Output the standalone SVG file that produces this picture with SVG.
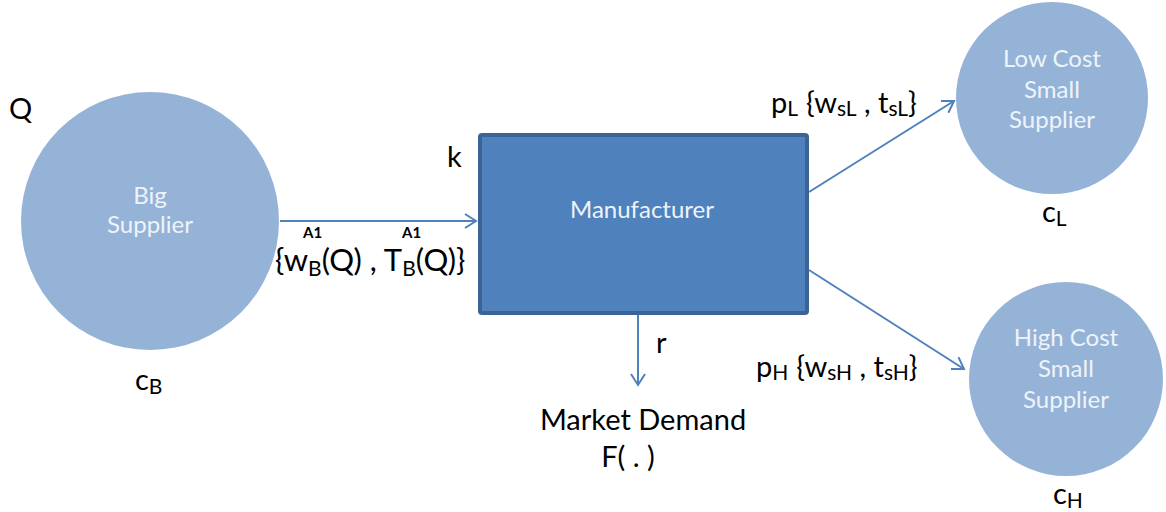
<svg xmlns="http://www.w3.org/2000/svg" width="1166" height="512" viewBox="0 0 1166 512">
<style>
.circ{fill:#95b3d7}
.ntxt{font-family:Lato,"Liberation Sans",sans-serif;font-size:24px;fill:#eef3fa;text-anchor:middle}
.lbl{font-family:Lato,"Liberation Sans",sans-serif;font-size:29px;fill:#000}
.big{font-size:31px}
.sub{font-size:21px}
.sup{font-family:Lato,"Liberation Sans",sans-serif;font-size:15px;font-weight:bold;fill:#000}
.edge{stroke:#4f81bd;stroke-width:2;fill:none}
</style>
<defs>
<marker id="ah" markerWidth="16" markerHeight="16" refX="12" refY="8" orient="auto" markerUnits="userSpaceOnUse">
<path d="M1,1 L12,8 L1,15" fill="none" stroke="#4f81bd" stroke-width="2"/>
</marker>
</defs>
<g id="connectors">
<line class="edge" x1="280" y1="221" x2="476" y2="221" marker-end="url(#ah)"/>
<line class="edge" x1="809" y1="192" x2="954" y2="101" marker-end="url(#ah)"/>
<line class="edge" x1="809" y1="270" x2="964" y2="369" marker-end="url(#ah)"/>
<line class="edge" x1="638" y1="315" x2="638" y2="385" marker-end="url(#ah)"/>
</g>
<g id="big-supplier">
<circle class="circ" cx="150" cy="221" r="129"/>
<text class="ntxt" x="150" y="204">Big</text>
<text class="ntxt" x="150" y="233">Supplier</text>
</g>
<g id="manufacturer">
<rect x="480" y="135" width="327" height="178" rx="2" fill="#4f81bd" stroke="#3b6396" stroke-width="4"/>
<text class="ntxt" x="642" y="218">Manufacturer</text>
</g>
<g id="low-cost">
<circle class="circ" cx="1052" cy="98" r="96"/>
<text class="ntxt" x="1052" y="67">Low Cost</text>
<text class="ntxt" x="1052" y="98">Small</text>
<text class="ntxt" x="1052" y="128">Supplier</text>
</g>
<g id="high-cost">
<circle class="circ" cx="1066" cy="379" r="97"/>
<text class="ntxt" x="1066" y="346">High Cost</text>
<text class="ntxt" x="1066" y="377">Small</text>
<text class="ntxt" x="1066" y="408">Supplier</text>
</g>
<g id="market-demand">
<text class="lbl" x="643" y="430" text-anchor="middle">Market Demand</text>
<text class="lbl" x="628" y="467" text-anchor="middle">F( . )</text>
</g>
<g id="labels">
<text class="lbl" x="9" y="119">Q</text>
<text class="lbl" x="135" y="390">c<tspan class="sub" dy="4">B</tspan></text>
<text class="lbl" x="1042" y="222">c<tspan class="sub" dy="4">L</tspan></text>
<text class="lbl" x="1053" y="504">c<tspan class="sub" dy="4">H</tspan></text>
<text class="lbl" x="447" y="167">k</text>
<text class="lbl" x="656" y="353">r</text>
<text class="lbl big" x="275" y="271">{w<tspan class="sub" dy="5">B</tspan><tspan dy="-5">(Q) , T</tspan><tspan class="sub" dy="5">B</tspan><tspan dy="-5">(Q)}</tspan></text>
<text class="sup" x="303" y="238">A1</text>
<text class="sup" x="402" y="238">A1</text>
<text class="lbl" x="771" y="113">p<tspan class="sub" dy="3">L</tspan><tspan dx="8" dy="-3">{w</tspan><tspan class="sub" dy="3">sL</tspan><tspan dy="-3"> , t</tspan><tspan class="sub" dy="3">sL</tspan><tspan dy="-3">}</tspan></text>
<text class="lbl" x="756" y="377">p<tspan class="sub" dy="3">H</tspan><tspan dx="8" dy="-3">{w</tspan><tspan class="sub" dy="3">sH</tspan><tspan dy="-3"> , t</tspan><tspan class="sub" dy="3">sH</tspan><tspan dy="-3">}</tspan></text>
</g>
</svg>
